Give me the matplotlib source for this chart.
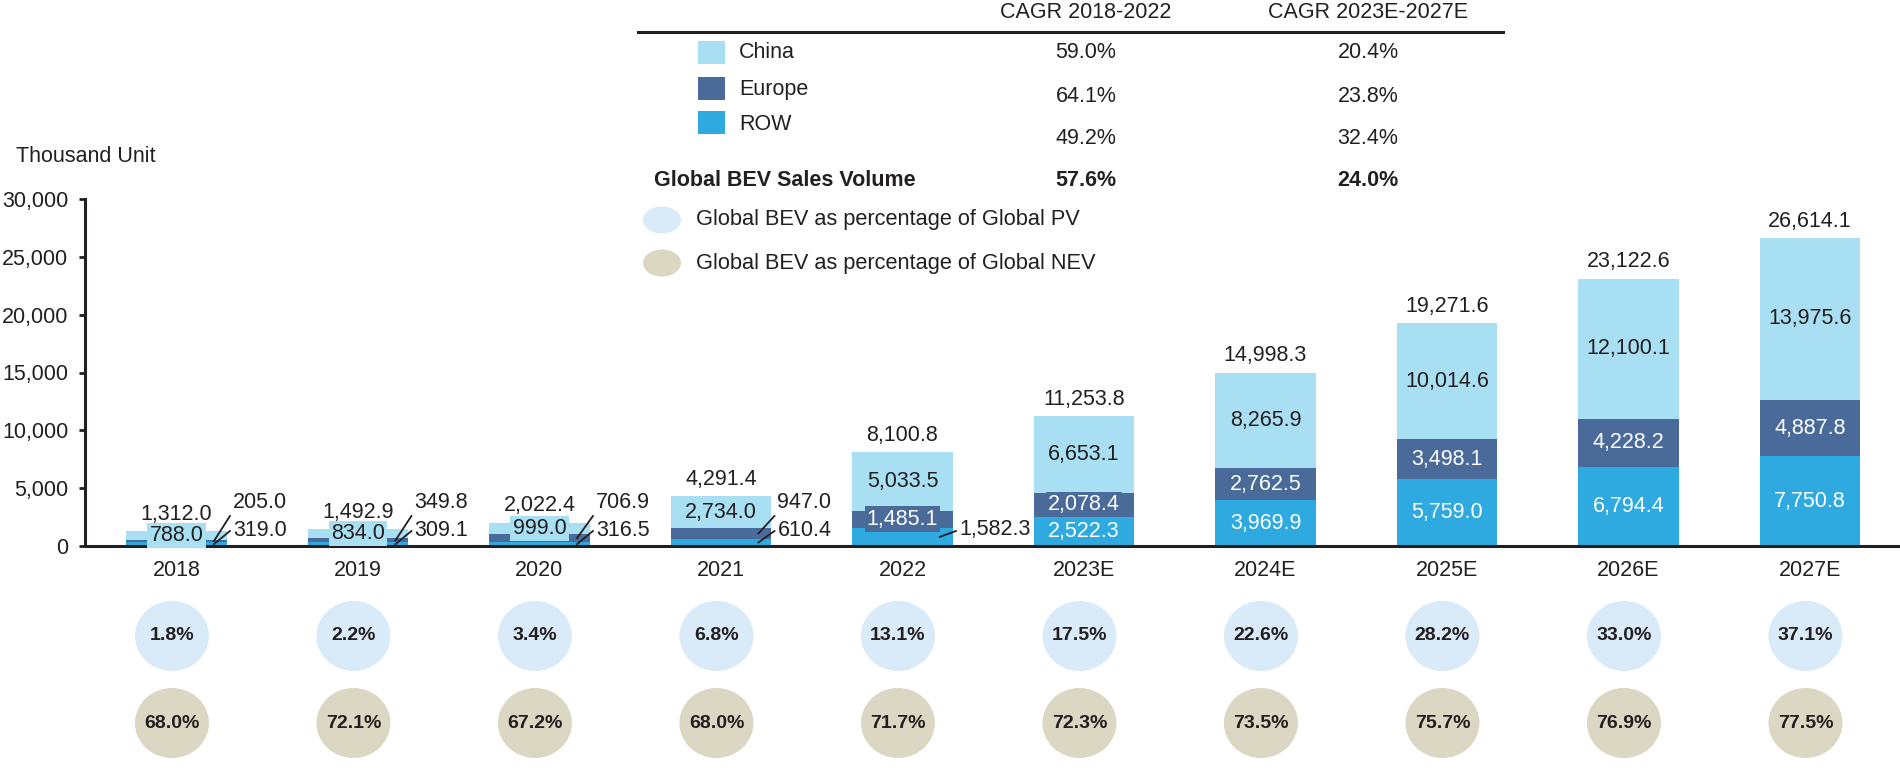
import matplotlib.pyplot as plt
from matplotlib.patches import Ellipse, Rectangle
from matplotlib.lines import Line2D

plt.rcParams['font.family'] = ['Liberation Sans', 'DejaVu Sans']

# dados (mil unidades)
years = ['2018', '2019', '2020', '2021', '2022', '2023E', '2024E', '2025E', '2026E', '2027E']
row = [319.0, 309.1, 316.5, 610.4, 1582.3, 2522.3, 3969.9, 5759.0, 6794.4, 7750.8]
europe = [205.0, 349.8, 706.9, 947.0, 1485.1, 2078.4, 2762.5, 3498.1, 4228.2, 4887.8]
china = [788.0, 834.0, 999.0, 2734.0, 5033.5, 6653.1, 8265.9, 10014.6, 12100.1, 13975.6]
totals = [1312.0, 1492.9, 2022.4, 4291.4, 8100.8, 11253.8, 14998.3, 19271.6, 23122.6, 26614.1]
pct_pv = [1.8, 2.2, 3.4, 6.8, 13.1, 17.5, 22.6, 28.2, 33.0, 37.1]
pct_nev = [68.0, 72.1, 67.2, 68.0, 71.7, 72.3, 73.5, 75.7, 76.9, 77.5]

regions = ['China', 'Europe', 'ROW']
cagr_hist = ['59.0%', '64.1%', '49.2%']
cagr_fcst = ['20.4%', '23.8%', '32.4%']
cagr_total = ['57.6%', '24.0%']

c_china = '#a8dff2'
c_europe = '#4a6a9a'
c_row = '#2eaae1'
c_pv = '#d9eaf8'
c_nev = '#dcd7c2'
txt = '#231f20'

W, H = 1900, 772


def box(l, t, r, b):
    return [l / W, 1 - b / H, (r - l) / W, (b - t) / H]


fig = plt.figure(figsize=(W / 100, H / 100), dpi=100)

# ---- barras ----
ax = fig.add_axes(box(85, 199, 1900, 546))
x0 = -0.504
ax.set_xlim(x0, x0 + 10)
ax.set_ylim(0, 30000)
bw = 0.556
upx = 10 / 1815          # unidades x por pixel
upy = 30000 / 347        # unidades y por pixel

xs = list(range(len(years)))
base2 = [r + e for r, e in zip(row, europe)]
ax.bar(xs, row, bw, color=c_row, zorder=2)
ax.bar(xs, europe, bw, bottom=row, color=c_europe, zorder=2)
ax.bar(xs, china, bw, bottom=base2, color=c_china, zorder=2)

for s in ['top', 'right']:
    ax.spines[s].set_visible(False)
for s in ['left', 'bottom']:
    ax.spines[s].set_linewidth(2.2)
    ax.spines[s].set_color(txt)
    ax.spines[s].set_zorder(4)

ax.set_yticks(range(0, 30001, 5000))
ax.set_yticklabels([f'{v:,}' for v in range(0, 30001, 5000)])
ax.tick_params(axis='y', direction='out', length=4, width=2, pad=8,
               labelsize=15.5, colors=txt)
ax.set_xticks(xs)
ax.set_xticklabels(years)
ax.tick_params(axis='x', length=0, pad=10, labelsize=15.5, colors=txt)

fs = 15.5
for i in xs:
    # total
    ax.annotate(f'{totals[i]:,.1f}', (i, totals[i]), xytext=(0, 12),
                textcoords='offset points', ha='center', va='center',
                fontsize=fs, color=txt)
    # China
    ax.text(i, base2[i] + china[i] / 2, f'{china[i]:,.1f}', ha='center', va='center',
            fontsize=fs, color=txt, zorder=5,
            bbox=dict(boxstyle='square,pad=0.1', fc=c_china, ec='none'))
    right = i + bw / 2
    tx = right + 6 * upx
    # Europe
    if i < 4:
        ty = 43 * upy
        ax.text(tx, ty, f'{europe[i]:,.1f}', ha='left', va='center', fontsize=fs, color=txt)
        ax.plot([tx - 3 * upx, right - 13 * upx], [ty - 13 * upy, row[i] + europe[i] / 2],
                color=txt, lw=1.3, zorder=5)
    else:
        ax.text(i, row[i] + europe[i] / 2, f'{europe[i]:,.1f}', ha='center', va='center',
                fontsize=fs, color='white', zorder=5,
                bbox=dict(boxstyle='square,pad=0.1', fc=c_europe, ec='none'))
    # ROW
    if i < 5:
        ty = 16 * upy
        ax.text(tx, ty, f'{row[i]:,.1f}', ha='left', va='center', fontsize=fs, color=txt)
        ax.plot([tx - 3 * upx, right - 13 * upx], [ty - 1 * upy, row[i] / 2],
                color=txt, lw=1.3, zorder=5)
    else:
        ax.text(i, row[i] / 2, f'{row[i]:,.1f}', ha='center', va='center',
                fontsize=fs, color='white', zorder=5)

fig.text(16 / W, 1 - 156 / H, 'Thousand Unit', ha='left', va='center', fontsize=15.5, color=txt)

# ---- circulos ----
ax2 = fig.add_axes(box(85, 590, 1900, 772))
ax2.set_xlim(x0, x0 + 10)
ax2.set_ylim(772, 590)
ax2.axis('off')
for i in xs:
    cx = i - 0.025
    ax2.add_patch(Ellipse((cx, 636), 74 * upx, 70, fc=c_pv, ec='none'))
    ax2.text(cx, 636, f'{pct_pv[i]:.1f}%', ha='center', va='center',
             fontsize=14, fontweight='bold', color=txt)
    ax2.add_patch(Ellipse((cx, 723), 74 * upx, 70, fc=c_nev, ec='none'))
    ax2.text(cx, 723, f'{pct_nev[i]:.1f}%', ha='center', va='center',
             fontsize=14, fontweight='bold', color=txt)

# ---- legenda / tabela CAGR ----
def ftext(px, py, s, **kw):
    fig.text(px / W, 1 - py / H, s, va='center', color=txt, **kw)


ftext(1086, 12, 'CAGR 2018-2022', ha='center', fontsize=15.5)
ftext(1368, 12, 'CAGR 2023E-2027E', ha='center', fontsize=15.5)
fig.add_artist(Line2D([638 / W, 1503 / W], [1 - 32 / H] * 2, lw=2.2, color=txt))

sq_top = [41, 77, 111]
lab_y = [53, 89, 124]
val_y = [53, 96, 138]
for k, name in enumerate(regions):
    col = [c_china, c_europe, c_row][k]
    fig.add_artist(Rectangle((698 / W, 1 - (sq_top[k] + 23) / H), 27 / W, 23 / H,
                             transform=fig.transFigure, fc=col, ec='none'))
    ftext(739, lab_y[k], name, ha='left', fontsize=15.5)
    ftext(1086, val_y[k], cagr_hist[k], ha='center', fontsize=15.5)
    ftext(1368, val_y[k], cagr_fcst[k], ha='center', fontsize=15.5)

ftext(654, 180, 'Global BEV Sales Volume', ha='left', fontsize=15.5, fontweight='bold')
ftext(1086, 180, cagr_total[0], ha='center', fontsize=15.5, fontweight='bold')
ftext(1368, 180, cagr_total[1], ha='center', fontsize=15.5, fontweight='bold')

for cy, col, lab in [(220, c_pv, 'Global BEV as percentage of Global PV'),
                     (263, c_nev, 'Global BEV as percentage of Global NEV')]:
    fig.add_artist(Ellipse((662 / W, 1 - cy / H), 38 / W, 27 / H,
                           transform=fig.transFigure, fc=col, ec='none'))
    ftext(696, cy, lab, ha='left', fontsize=15.7)

fig.savefig('out.png', dpi=100)
